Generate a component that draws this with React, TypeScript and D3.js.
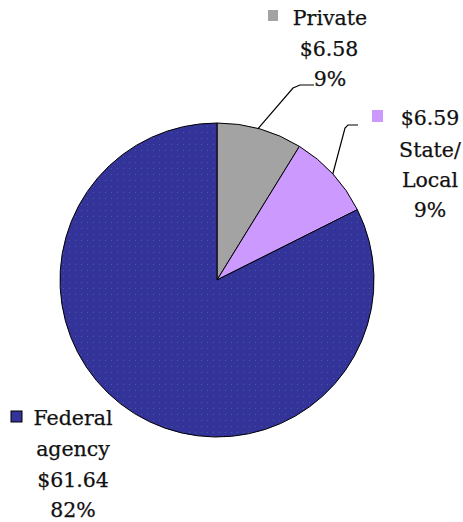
import React from "react";
import * as d3 from "d3";

const categories = ["Private", "State/Local", "Federal agency"];
const values = [6.58, 6.59, 61.64];
const percents = ["9%", "9%", "82%"];
const colors = ["#a3a3a3", "#cc99ff", "#333399"];

const W = 463, H = 522;
const cx = 217, cy = 280, R = 157;

export default function App() {
  const pie = d3.pie<number>().sort(null).value((d) => d)(values);
  const arc = d3.arc<d3.PieArcDatum<number>>().innerRadius(0).outerRadius(R);
  const fs = 20.5;

  const edge = (a: number, r: number) => [cx + r * Math.sin(a), cy - r * Math.cos(a)];
  const pMid = edge(pie[0].startAngle + (pie[0].endAngle - pie[0].startAngle) * 0.5, R);
  const sMid = edge(pie[1].startAngle + (pie[1].endAngle - pie[1].startAngle) * 0.5, R);

  return (
    <svg width={W} height={H} style={{ position: "absolute", left: 0, top: 0 }}>
      <defs>
        <pattern id="dots" width="6" height="6" patternUnits="userSpaceOnUse">
          <rect width="6" height="6" fill={colors[2]} />
          <rect x="2" y="2" width="1" height="1" fill="#3d5fa0" />
        </pattern>
      </defs>
      <rect width={W} height={H} fill="#fff" />
      <g transform={`translate(${cx},${cy})`}>
        {pie.map((d, i) => (
          <path
            key={categories[i]}
            d={arc(d) || ""}
            fill={i === 2 ? "url(#dots)" : colors[i]}
            stroke="#000"
            strokeWidth={1}
          />
        ))}
      </g>
      <polyline
        points={`${pMid[0] - 2},${pMid[1]} 293,88 300,85 314,85`}
        fill="none" stroke="#000" strokeWidth={1.2}
      />
      <polyline
        points={`${sMid[0]},${sMid[1]} 345,128 348,125 358,125`}
        fill="none" stroke="#000" strokeWidth={1.2}
      />
      <g fontFamily="DejaVu Serif" fontSize={fs} fill="#111" stroke="#111" strokeWidth={0.25}>
        <rect x={268} y={10} width={10} height={11} fill={colors[0]} stroke="none" />
        <text x={330} y={25} textAnchor="middle">{categories[0]}</text>
        <text x={329} y={56} textAnchor="middle">${values[0].toFixed(2)}</text>
        <text x={330} y={86} textAnchor="middle">{percents[0]}</text>
        <rect x={372} y={110} width={11} height={12} fill={colors[1]} stroke="none" />
        <text x={430} y={125} textAnchor="middle">${values[1].toFixed(2)}</text>
        <text x={430} y={157} textAnchor="middle">State/</text>
        <text x={430} y={187} textAnchor="middle">Local</text>
        <text x={430} y={217} textAnchor="middle">{percents[1]}</text>
        <rect x={11} y={411} width={11} height={11} fill={colors[2]} stroke="#000" strokeWidth={1} />
        <text x={73} y={425} textAnchor="middle">Federal</text>
        <text x={73} y={456} textAnchor="middle">agency</text>
        <text x={73} y={487} textAnchor="middle">${values[2].toFixed(2)}</text>
        <text x={73} y={517} textAnchor="middle">{percents[2]}</text>
      </g>
    </svg>
  );
}
